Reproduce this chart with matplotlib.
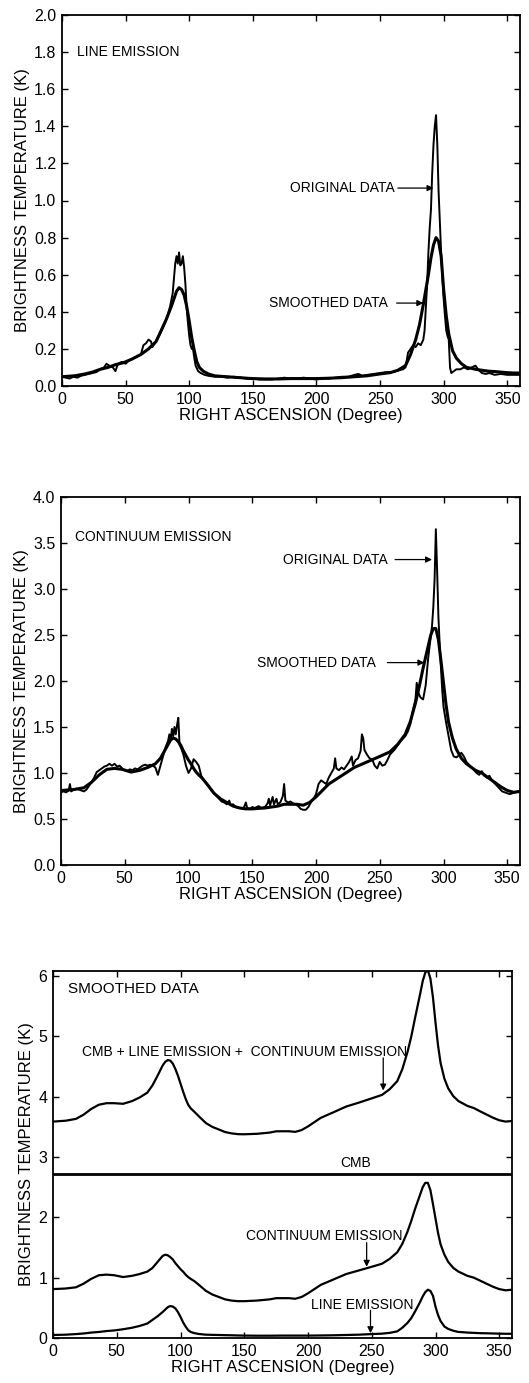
import matplotlib
matplotlib.use('Agg')
import matplotlib.pyplot as plt

plt.rcParams['font.family'] = ['Liberation Sans', 'DejaVu Sans']

# ---- line emission, original scan ----
line_ra = [0, 3, 6, 9, 12, 15, 18, 21, 24, 27, 30, 33, 35, 37, 40, 42, 44, 47, 50, 53,
           56, 59, 62, 64, 66, 68, 70, 71, 73, 75, 77, 79, 81, 83, 85, 87, 88, 89, 90, 91,
           92, 93, 94, 95, 96, 97, 98, 99, 100, 101, 102, 103, 104, 105, 107, 109, 112, 115, 120, 125,
           130, 135, 140, 145, 150, 155, 160, 165, 170, 175, 178, 180, 185, 190, 195, 200, 205, 210, 215, 220,
           225, 230, 233, 236, 240, 245, 250, 255, 260, 265, 268, 270, 272, 274, 276, 278, 280, 282, 284, 285,
           286, 287, 288, 289, 290, 291, 292, 293, 294, 295, 296, 297, 298, 299, 300, 301, 302, 303, 304, 305,
           306, 308, 310, 313, 316, 319, 322, 325, 327, 330, 333, 336, 340, 345, 350, 355, 360]
line_orig = [0.05, 0.045, 0.04, 0.05, 0.045, 0.055, 0.06, 0.065, 0.07, 0.075, 0.09, 0.10, 0.12, 0.11, 0.10, 0.08, 0.12, 0.13, 0.12, 0.14,
             0.15, 0.16, 0.17, 0.22, 0.23, 0.25, 0.24, 0.21, 0.23, 0.26, 0.28, 0.31, 0.34, 0.38, 0.43, 0.50, 0.58, 0.66, 0.70, 0.66,
             0.72, 0.65, 0.66, 0.70, 0.64, 0.55, 0.42, 0.34, 0.27, 0.22, 0.20, 0.20, 0.15, 0.11, 0.08, 0.07, 0.06, 0.055, 0.05, 0.05,
             0.045, 0.05, 0.045, 0.04, 0.04, 0.035, 0.035, 0.035, 0.04, 0.045, 0.04, 0.04, 0.04, 0.045, 0.04, 0.035, 0.04, 0.04, 0.045, 0.05,
             0.05, 0.06, 0.065, 0.055, 0.06, 0.065, 0.07, 0.075, 0.075, 0.085, 0.09, 0.10, 0.18, 0.20, 0.22, 0.21, 0.23, 0.22, 0.25, 0.30,
             0.42, 0.55, 0.72, 0.85, 0.95, 1.15, 1.30, 1.40, 1.46, 1.30, 1.05, 0.88, 0.72, 0.58, 0.47, 0.38, 0.30, 0.27, 0.25, 0.10,
             0.07, 0.08, 0.09, 0.09, 0.10, 0.09, 0.10, 0.11, 0.09, 0.07, 0.065, 0.07, 0.06, 0.065, 0.06, 0.06, 0.06]

# ---- continuum emission, original scan ----
cont_ra = [0, 2, 4, 6, 7, 8, 10, 12, 14, 16, 18, 20, 22, 24, 26, 28, 30, 32, 34, 36,
           38, 40, 42, 44, 46, 48, 50, 52, 54, 56, 58, 60, 62, 64, 66, 68, 70, 72, 74, 76,
           78, 80, 82, 84, 85, 86, 87, 88, 89, 90, 91, 92, 93, 94, 96, 98, 100, 102, 104, 106,
           108, 110, 112, 114, 116, 118, 120, 122, 124, 126, 128, 130, 132, 133, 135, 137, 140, 143, 145, 146,
           148, 150, 152, 155, 157, 160, 162, 163, 164, 166, 167, 169, 170, 172, 174, 175, 176, 178, 180, 182,
           184, 186, 188, 190, 192, 194, 196, 198, 200, 202, 204, 206, 208, 210, 212, 214, 215, 216, 218, 220,
           222, 224, 226, 228, 229, 231, 233, 235, 236, 237, 238, 240, 242, 244, 246, 248, 250, 252, 254, 256,
           258, 260, 262, 264, 266, 268, 270, 272, 274, 276, 278, 279, 280, 282, 284, 286, 288, 290, 291, 292,
           293, 294, 295, 296, 297, 298, 299, 300, 302, 304, 306, 308, 310, 312, 314, 316, 318, 320, 322, 324,
           326, 328, 330, 332, 334, 336, 338, 340, 342, 344, 346, 348, 350, 352, 354, 356, 358, 360]
cont_orig = [0.79, 0.80, 0.79, 0.81, 0.88, 0.80, 0.82, 0.83, 0.82, 0.81, 0.80, 0.82, 0.86, 0.90, 0.95, 1.01, 1.03, 1.05, 1.07, 1.08,
             1.10, 1.08, 1.10, 1.07, 1.08, 1.05, 1.03, 1.02, 1.04, 1.03, 1.05, 1.04, 1.06, 1.08, 1.09, 1.08, 1.09, 1.08, 1.06, 0.98,
             1.08, 1.18, 1.28, 1.35, 1.42, 1.36, 1.48, 1.40, 1.50, 1.42, 1.52, 1.60, 1.30, 1.28, 1.20, 1.08, 1.00, 1.05, 1.15, 1.12,
             1.08, 0.97, 0.92, 0.89, 0.86, 0.81, 0.78, 0.75, 0.72, 0.69, 0.68, 0.66, 0.70, 0.65, 0.66, 0.63, 0.62, 0.61, 0.68, 0.62,
             0.61, 0.63, 0.62, 0.64, 0.62, 0.63, 0.67, 0.72, 0.65, 0.74, 0.66, 0.72, 0.66, 0.68, 0.75, 0.88, 0.70, 0.68, 0.69, 0.67,
             0.66, 0.64, 0.61, 0.60, 0.60, 0.63, 0.68, 0.72, 0.77, 0.88, 0.92, 0.90, 0.88, 0.95, 1.00, 1.05, 1.16, 1.05, 1.03, 1.06,
             1.04, 1.08, 1.12, 1.18, 1.08, 1.14, 1.16, 1.24, 1.42, 1.38, 1.25, 1.20, 1.16, 1.15, 1.08, 1.05, 1.12, 1.08, 1.09, 1.14,
             1.20, 1.23, 1.26, 1.30, 1.34, 1.37, 1.40, 1.45, 1.53, 1.68, 1.80, 1.98, 1.88, 1.82, 1.80, 1.95, 2.25, 2.48, 2.60, 2.80,
             3.10, 3.65, 3.20, 2.70, 2.40, 2.15, 1.90, 1.72, 1.55, 1.40, 1.25, 1.18, 1.17, 1.19, 1.22, 1.18, 1.12, 1.09, 1.06, 1.03,
             1.00, 0.98, 1.02, 0.97, 0.95, 0.97, 0.92, 0.89, 0.86, 0.83, 0.80, 0.79, 0.78, 0.77, 0.78, 0.79, 0.80, 0.80]

# ---- smoothed curves, common RA grid ----
smooth_ra = [0, 10, 18, 24, 30, 36, 42, 48, 55, 62, 68, 74, 78, 82, 86, 88, 90, 92, 94, 96,
             98, 100, 102, 104, 106, 108, 111, 115, 120, 125, 130, 135, 140, 145, 150, 160, 170, 175, 180, 185,
             190, 195, 200, 205, 210, 220, 230, 240, 250, 258, 264, 270, 274, 278, 281, 284, 286, 288, 290, 292,
             294, 296, 298, 300, 302, 304, 307, 310, 314, 318, 322, 325, 330, 335, 340, 345, 350, 355, 360]
line_smooth = [0.05, 0.055, 0.065, 0.075, 0.09, 0.10, 0.115, 0.125, 0.145, 0.17, 0.20, 0.24, 0.30, 0.36, 0.43, 0.47, 0.51, 0.53, 0.52, 0.49,
               0.43, 0.35, 0.26, 0.19, 0.13, 0.10, 0.08, 0.065, 0.055, 0.052, 0.05, 0.047, 0.045, 0.042, 0.04, 0.038, 0.038, 0.039, 0.04, 0.04,
               0.04, 0.04, 0.04, 0.041, 0.042, 0.045, 0.05, 0.055, 0.065, 0.072, 0.085, 0.11, 0.17, 0.25, 0.33, 0.44, 0.52, 0.60, 0.69, 0.76,
               0.80, 0.78, 0.70, 0.52, 0.38, 0.28, 0.19, 0.15, 0.12, 0.10, 0.095, 0.09, 0.085, 0.08, 0.078, 0.075, 0.072, 0.07, 0.07]
cont_smooth = [0.81, 0.82, 0.84, 0.90, 0.98, 1.04, 1.05, 1.04, 1.01, 1.03, 1.06, 1.10, 1.16, 1.26, 1.36, 1.38, 1.37, 1.34, 1.30, 1.24,
               1.19, 1.14, 1.10, 1.05, 1.01, 0.98, 0.94, 0.87, 0.78, 0.72, 0.68, 0.64, 0.62, 0.61, 0.61, 0.62, 0.64, 0.66, 0.66, 0.66,
               0.65, 0.68, 0.74, 0.81, 0.88, 0.97, 1.06, 1.12, 1.18, 1.23, 1.31, 1.42, 1.56, 1.76, 1.94, 2.14, 2.26, 2.38, 2.50, 2.57,
               2.57, 2.45, 2.22, 1.98, 1.74, 1.55, 1.38, 1.26, 1.16, 1.10, 1.06, 1.03, 1.00, 0.95, 0.90, 0.85, 0.81, 0.79, 0.80]

cmb = 2.725
total = [c + l + cmb for c, l in zip(cont_smooth, line_smooth)]

x_ticks = [0, 50, 100, 150, 200, 250, 300, 350]

fig = plt.figure(figsize=(5.29, 13.83), dpi=100)
W, H = 529.0, 1383.0
ax1 = fig.add_axes([62 / W, 1 - 386 / H, 458 / W, 371 / H])
ax2 = fig.add_axes([61 / W, 1 - 865 / H, 459 / W, 368 / H])
ax3 = fig.add_axes([53 / W, 1 - 1338 / H, 459 / W, 367 / H])

arrow = dict(arrowstyle='-|>', color='black', lw=0.9, mutation_scale=9, shrinkA=0, shrinkB=0)
txt = dict(fontsize=10, va='center', ha='left')

def style(ax):
    ax.set_xlim(0, 360)
    ax.set_xticks(x_ticks)
    ax.tick_params(direction='in', top=True, right=True, length=4, width=1, labelsize=11.5, pad=4)
    for s in ax.spines.values():
        s.set_linewidth(1.3)
    ax.set_xlabel('RIGHT ASCENSION (Degree)', fontsize=12, labelpad=1)
    ax.set_ylabel('BRIGHTNESS TEMPERATURE (K)', fontsize=12, labelpad=3)

# panel 1
ax1.plot(line_ra, line_orig, color='black', lw=1.4)
ax1.plot(smooth_ra, line_smooth, color='black', lw=2.2)
ax1.set_ylim(0, 2.0)
ax1.set_yticks([0, 0.2, 0.4, 0.6, 0.8, 1.0, 1.2, 1.4, 1.6, 1.8, 2.0])
ax1.set_yticklabels(['0.0', '0.2', '0.4', '0.6', '0.8', '1.0', '1.2', '1.4', '1.6', '1.8', '2.0'])
style(ax1)
ax1.text(12, 1.80, 'LINE EMISSION', **txt)
ax1.text(179, 1.067, 'ORIGINAL DATA', **txt)
ax1.annotate('', xy=(292, 1.067), xytext=(264, 1.067), arrowprops=arrow)
ax1.text(163, 0.447, 'SMOOTHED DATA', **txt)
ax1.annotate('', xy=(284, 0.447), xytext=(263, 0.447), arrowprops=arrow)

# panel 2
ax2.plot(cont_ra, cont_orig, color='black', lw=1.4)
ax2.plot(smooth_ra, cont_smooth, color='black', lw=2.2)
ax2.set_ylim(0, 4.0)
ax2.set_yticks([0, 0.5, 1.0, 1.5, 2.0, 2.5, 3.0, 3.5, 4.0])
ax2.set_yticklabels(['0.0', '0.5', '1.0', '1.5', '2.0', '2.5', '3.0', '3.5', '4.0'])
style(ax2)
ax2.text(11, 3.57, 'CONTINUUM EMISSION', **txt)
ax2.text(174, 3.32, 'ORIGINAL DATA', **txt)
ax2.annotate('', xy=(291, 3.32), xytext=(262, 3.32), arrowprops=arrow)
ax2.text(154, 2.20, 'SMOOTHED DATA', **txt)
ax2.annotate('', xy=(285, 2.20), xytext=(256, 2.20), arrowprops=arrow)

# panel 3
ax3.plot(smooth_ra, total, color='black', lw=1.6)
ax3.axhline(cmb, color='black', lw=2.0)
ax3.plot(smooth_ra, cont_smooth, color='black', lw=1.6)
ax3.plot(smooth_ra, line_smooth, color='black', lw=1.6)
ax3.set_ylim(0, 6.08)
ax3.set_yticks([0, 1, 2, 3, 4, 5, 6])
style(ax3)
ax3.text(12, 5.79, 'SMOOTHED DATA', fontsize=11, va='center', ha='left')
ax3.text(23, 4.74, 'CMB + LINE EMISSION +  CONTINUUM EMISSION', fontsize=10, va='center', ha='left')
ax3.annotate('', xy=(259, 4.10), xytext=(259, 4.64), arrowprops=arrow)
ax3.text(237, 2.90, 'CMB', fontsize=10, va='center', ha='center')
ax3.text(151, 1.69, 'CONTINUUM EMISSION', fontsize=10, va='center', ha='left')
ax3.annotate('', xy=(246, 1.18), xytext=(246, 1.58), arrowprops=arrow)
ax3.text(202, 0.55, 'LINE EMISSION', fontsize=10, va='center', ha='left')
ax3.annotate('', xy=(249, 0.08), xytext=(249, 0.46), arrowprops=arrow)

fig.savefig('out.png', dpi=100)
